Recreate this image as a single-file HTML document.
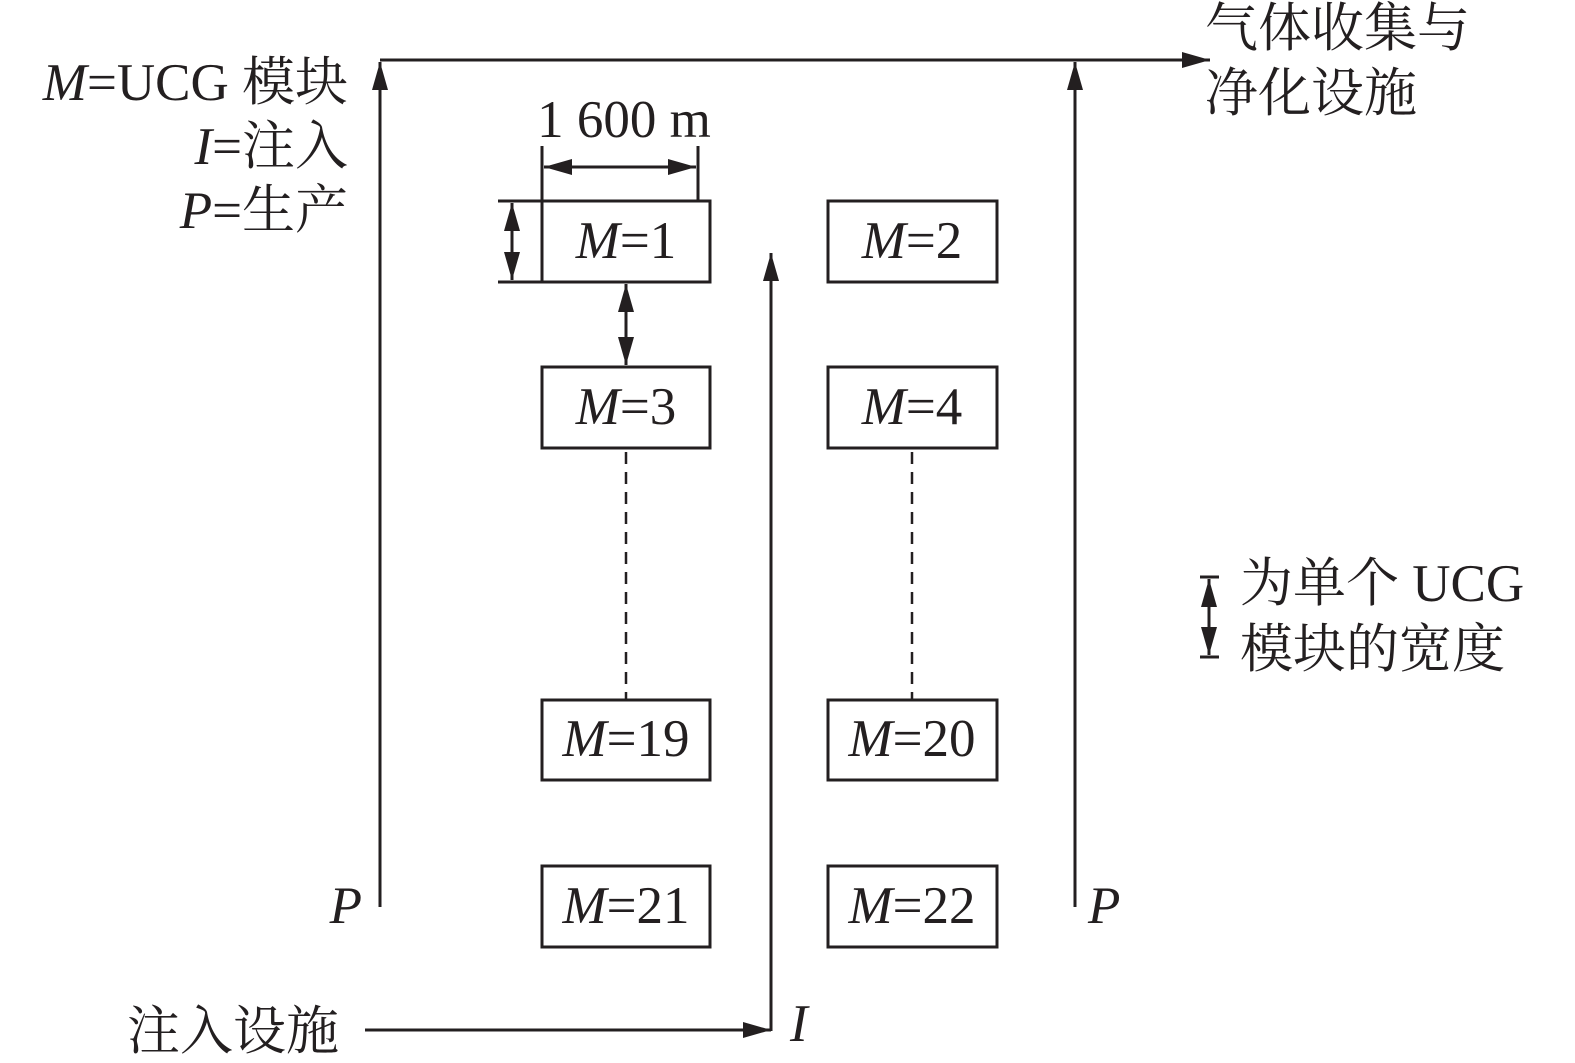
<!DOCTYPE html>
<html><head><meta charset="utf-8"><style>
html,body{margin:0;padding:0;background:#fff}
svg{display:block}
text{font-family:"Liberation Serif","Noto Serif CJK SC",serif;fill:#231f20}
</style></head><body>
<svg width="1575" height="1063" viewBox="0 0 1575 1063" xmlns="http://www.w3.org/2000/svg">
<defs>
<marker id="b" viewBox="0 0 28 16" refX="28" refY="8" markerWidth="28" markerHeight="16" orient="auto-start-reverse" markerUnits="userSpaceOnUse"><path d="M0,0 L28,8 L0,16 z" fill="#231f20"/></marker>
</defs>
<g stroke="#231f20" stroke-width="3" fill="none">
<line x1="380" y1="907" x2="380" y2="62" marker-end="url(#b)"/>
<line x1="380" y1="60" x2="1210" y2="60" marker-end="url(#b)"/>
<line x1="1075" y1="907" x2="1075" y2="62" marker-end="url(#b)"/>
<line x1="771" y1="1031" x2="771" y2="253" marker-end="url(#b)"/>
<line x1="365" y1="1030" x2="771" y2="1030" marker-end="url(#b)"/>
<rect x="542" y="201" width="168" height="81"/>
<rect x="828" y="201" width="169" height="81"/>
<rect x="542" y="367" width="168" height="81"/>
<rect x="828" y="367" width="169" height="81"/>
<rect x="542" y="700" width="168" height="80"/>
<rect x="828" y="700" width="169" height="80"/>
<rect x="542" y="866" width="168" height="81"/>
<rect x="828" y="866" width="169" height="81"/>
<line x1="542" y1="146" x2="542" y2="201"/>
<line x1="698" y1="146" x2="698" y2="201"/>
<line x1="544" y1="167" x2="696" y2="167" marker-start="url(#b)" marker-end="url(#b)"/>
<line x1="498" y1="201" x2="542" y2="201"/>
<line x1="498" y1="282" x2="542" y2="282"/>
<line x1="512" y1="203" x2="512" y2="280" marker-start="url(#b)" marker-end="url(#b)"/>
<line x1="626" y1="284" x2="626" y2="365" marker-start="url(#b)" marker-end="url(#b)"/>
<line x1="626" y1="452" x2="626" y2="700" stroke-width="2.5" stroke-dasharray="12,8"/>
<line x1="912" y1="452" x2="912" y2="700" stroke-width="2.5" stroke-dasharray="12,8"/>
<line x1="1200" y1="577" x2="1219" y2="577"/>
<line x1="1200" y1="657" x2="1219" y2="657"/>
<line x1="1209" y1="579" x2="1209" y2="655" marker-start="url(#b)" marker-end="url(#b)"/>
</g>
<g font-size="53">
<text x="348" y="100" text-anchor="end"><tspan font-style="italic">M</tspan>=UCG 模块</text>
<text x="348" y="164" text-anchor="end"><tspan font-style="italic">I</tspan>=注入</text>
<text x="348" y="228" text-anchor="end"><tspan font-style="italic">P</tspan>=生产</text>
<text x="624" y="137" text-anchor="middle">1 600 m</text>
<text x="1205" y="46">气体收集与</text>
<text x="1205" y="111">净化设施</text>
<text x="1240" y="601">为单个 UCG</text>
<text x="1240" y="667">模块的宽度</text>
<text x="127" y="1049">注入设施</text>
<text x="362" y="923" text-anchor="end" font-style="italic">P</text>
<text x="1088" y="923" font-style="italic">P</text>
<text x="790" y="1041" font-style="italic">I</text>
<text x="626" y="258" text-anchor="middle"><tspan font-style="italic">M</tspan>=1</text>
<text x="912" y="258" text-anchor="middle"><tspan font-style="italic">M</tspan>=2</text>
<text x="626" y="424" text-anchor="middle"><tspan font-style="italic">M</tspan>=3</text>
<text x="912" y="424" text-anchor="middle"><tspan font-style="italic">M</tspan>=4</text>
<text x="626" y="756" text-anchor="middle"><tspan font-style="italic">M</tspan>=19</text>
<text x="912" y="756" text-anchor="middle"><tspan font-style="italic">M</tspan>=20</text>
<text x="626" y="923" text-anchor="middle"><tspan font-style="italic">M</tspan>=21</text>
<text x="912" y="923" text-anchor="middle"><tspan font-style="italic">M</tspan>=22</text>
</g>
</svg>
</body></html>
